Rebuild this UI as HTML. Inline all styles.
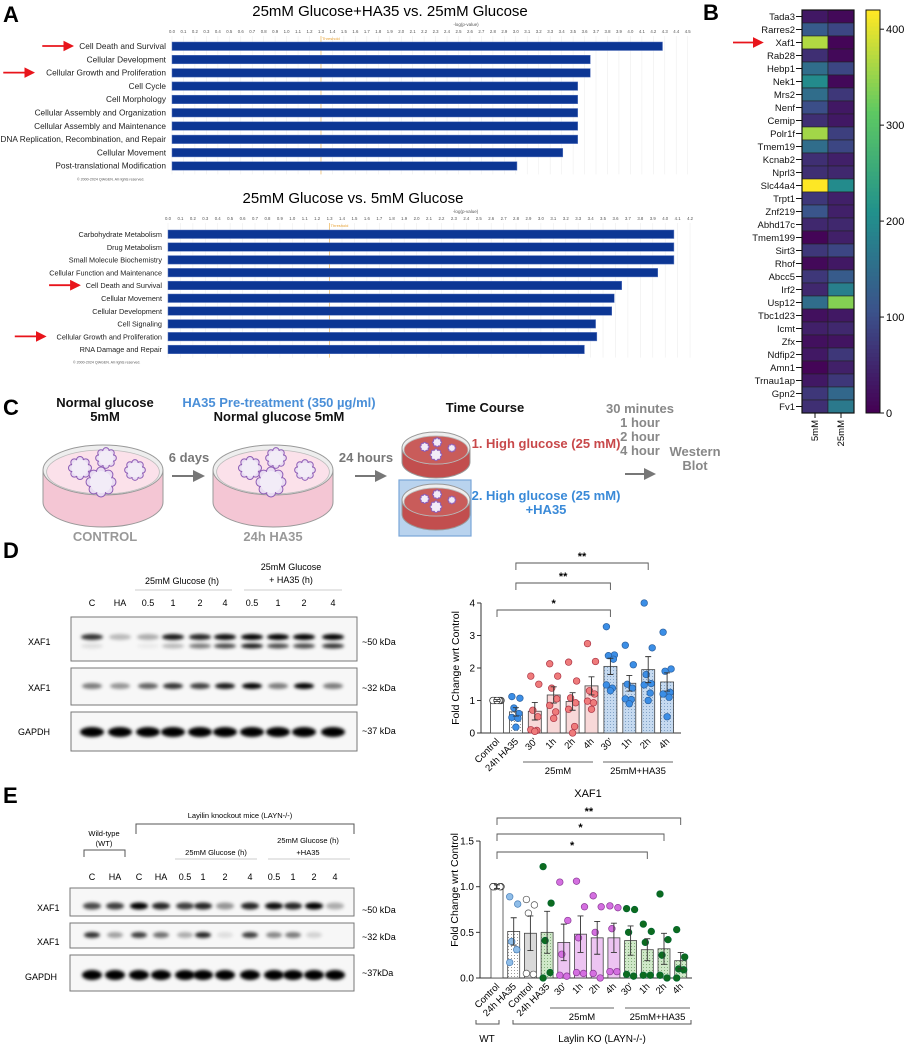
<!DOCTYPE html>
<html><head><meta charset="utf-8">
<style>
html,body{margin:0;padding:0;background:#fff;}
svg{display:block;font-family:"Liberation Sans",Arial,sans-serif;}
.nar{font-family:"Liberation Sans Narrow","Liberation Sans",sans-serif;font-weight:bold;}
</style></head>
<body>
<svg id="fig" width="907" height="1050" viewBox="0 0 907 1050" xmlns="http://www.w3.org/2000/svg">
<defs>
<pattern id="dotW" width="3" height="3" patternUnits="userSpaceOnUse"><rect width="3" height="3" fill="#fff"/><circle cx="1.5" cy="1.5" r="0.5" fill="#777"/></pattern>
<pattern id="dotB" width="3" height="3" patternUnits="userSpaceOnUse"><rect width="3" height="3" fill="#c6daf0"/><circle cx="1.5" cy="1.5" r="0.5" fill="#6a8fb8"/></pattern>
<pattern id="dotG" width="3" height="3" patternUnits="userSpaceOnUse"><rect width="3" height="3" fill="#cfe8c8"/><circle cx="1.5" cy="1.5" r="0.5" fill="#6a9a60"/></pattern>
<filter id="blur" x="-50%" y="-100%" width="200%" height="300%"><feGaussianBlur stdDeviation="1.6"/></filter>
<marker id="arrR" markerWidth="6" markerHeight="6" refX="5" refY="3" orient="auto"><path d="M0,0 L6,3 L0,6 z" fill="#e8141b"/></marker>
<marker id="arrG" markerWidth="6" markerHeight="6" refX="5" refY="3" orient="auto"><path d="M0,0 L6,3 L0,6 z" fill="#777"/></marker>
</defs>
<g id="panelA"></g>
<g id="panelB"></g>
<g id="panelC"></g>
<g id="panelD"></g>
<g id="panelE"></g>
</svg>
<script>
// ---------- DATA ----------
const topCats=["Cell Death and Survival","Cellular Development","Cellular Growth and Proliferation","Cell Cycle","Cell Morphology","Cellular Assembly and Organization","Cellular Assembly and Maintenance","DNA Replication, Recombination, and Repair","Cellular Movement","Post-translational Modification"];
const topVals=[4.28,3.65,3.65,3.54,3.54,3.54,3.54,3.54,3.41,3.01];
const botCats=["Carbohydrate Metabolism","Drug Metabolism","Small Molecule Biochemistry","Cellular Function and Maintenance","Cell Death and Survival","Cellular Movement","Cellular Development","Cell Signaling","Cellular Growth and Proliferation","RNA Damage and Repair"];
const botVals=[4.07,4.07,4.07,3.94,3.65,3.59,3.57,3.44,3.45,3.35];
const genes=["Tada3","Rarres2","Xaf1","Rab28","Hebp1","Nek1","Mrs2","Nenf","Cemip","Polr1f","Tmem19","Kcnab2","Nprl3","Slc44a4","Trpt1","Znf219","Abhd17c","Tmem199","Sirt3","Rhof","Abcc5","Irf2","Usp12","Tbc1d23","Icmt","Zfx","Ndfip2","Amn1","Trnau1ap","Gpn2","Fv1"];
const heat5=[30,120,370,60,150,200,150,100,60,360,150,60,60,420,70,110,50,5,70,10,70,50,150,20,40,20,30,5,30,70,60];
const heat25=[10,90,5,10,90,10,70,30,30,80,90,40,50,200,40,40,50,40,90,30,120,180,340,30,50,25,70,40,70,140,170];
const heatTicks=[0,100,200,300,400];
const dCats=["Control","24h HA35","30'","1h","2h","4h","30'","1h","2h","4h"];
const dMeans=[1.0,0.65,0.67,1.17,0.97,1.45,2.05,1.53,1.95,1.57];
const dErr=[0.03,0.13,0.27,0.25,0.27,0.28,0.25,0.24,0.4,0.28];
const dPts=[[1,1,1,1,1,1,1],[1.12,1.07,0.77,0.6,0.48,0.45,0.18],[1.75,1.5,0.7,0.5,0.1,0.08,0.05],[2.13,1.75,1.38,1.05,0.85,0.65,0.45],[2.18,1.6,1.08,0.93,0.73,0.2,0],[2.75,2.2,1.3,1.2,0.98,0.93,0.73],[3.27,2.4,2.38,2.27,1.48,1.38,1.3],[2.7,2.1,1.5,1.38,1.05,1.03,0.9],[4.0,2.62,1.8,1.52,1.48,1.23,1.0],[3.1,1.97,1.9,1.25,1.2,1.1,0.5]];
const dTicks=[0,1,2,3,4];
const eCats=["Control","24h HA35","Control","24h HA35","30'","1h","2h","4h","30'","1h","2h","4h"];
const eMeans=[1.0,0.51,0.49,0.5,0.39,0.48,0.44,0.44,0.41,0.31,0.32,0.19];
const eErr=[0.02,0.15,0.19,0.23,0.2,0.2,0.18,0.16,0.16,0.12,0.17,0.09];
const ePts=[[1,1,1,1,1],[0.89,0.81,0.4,0.31,0.17],[0.86,0.8,0.71,0.04,0.05],[1.22,0.82,0.41,0.06,0.0],[1.05,0.63,0.26,0.02,0.03],[1.06,0.78,0.44,0.05,0.06],[0.9,0.78,0.5,0.0,0.05],[0.79,0.77,0.54,0.07,0.07],[0.76,0.75,0.5,0.02,0.04],[0.59,0.51,0.39,0.03,0.03],[0.92,0.42,0.25,0.0,0.03],[0.53,0.23,0.1,0.09,0.0]];
const eTicks=[0,0.5,1.0,1.5];
const dBand50=[0.8,0.25,0.3,0.9,0.85,0.95,1,1,1,1];
const dBand50b=[0.1,0,0.05,0.25,0.5,0.7,0.9,0.7,0.7,0.8];
const dBand32=[0.5,0.4,0.6,0.8,0.75,0.9,1,0.5,1,0.5];
const eBand50=[0.7,0.75,1,0.85,0.75,0.85,0.4,0.85,0.95,0.85,1,0.3];
const eBand32=[0.8,0.35,0.75,0.55,0.3,0.85,0.1,0.75,0.45,0.5,0.15,0];

// ---------- helpers ----------
const NS='http://www.w3.org/2000/svg';
function mk(tag,attrs,parent){const e=document.createElementNS(NS,tag);for(const k in attrs)e.setAttribute(k,attrs[k]);parent.appendChild(e);return e;}
function tx(p,x,y,s,attrs){const t=mk('text',Object.assign({x:x,y:y},attrs||{}),p);t.textContent=s;return t;}
const A=document.getElementById('panelA'),B=document.getElementById('panelB'),C=document.getElementById('panelC'),D=document.getElementById('panelD'),E=document.getElementById('panelE');

// ---------- Panel A ----------
let el;
el=tx(A,3,22,'A',{'font-size':22,'font-weight':'bold'});


function ipa(cats,vals,o){
  const g=mk('g',{},A);
  
  
  const xs=v=>o.x0+v*o.ppu;
  const t=tx(g,o.titleX,o.titleY,o.title,{'font-size':15,'text-anchor':'middle'});
  
  
  const bottom=o.row0+(cats.length-0.5)*o.step+2;
  for(let i=0;i<=o.max*10;i++){
    const v=i/10;
    const gl=mk('line',{x1:xs(v),x2:xs(v),y1:o.tickY+3,y2:bottom,stroke:'#eeeeee','stroke-width':0.6},g);
    
    
    const tl=tx(g,xs(v),o.tickY,v.toFixed(1),{'font-size':4.3,'text-anchor':'middle',fill:'#555'});
    
    
  }
  const at=tx(g,o.x0+o.ppu*o.max*0.57,o.tickY-7,'-log(p-value)',{'font-size':4.5,'text-anchor':'middle',fill:'#555'});
  
  
  const th=mk('line',{x1:xs(1.3),x2:xs(1.3),y1:o.tickY+3,y2:bottom,stroke:'#f0c070','stroke-width':0.8},g);
  
  
  const tt=tx(g,xs(1.3)+1,o.tickY+7,'Threshold',{'font-size':4,fill:'#e8a030'});
  
  
  cats.forEach((c,i)=>{
    const y=o.row0+i*o.step;
    const r=mk('rect',{x:xs(0),y:y-4,width:xs(vals[i])-xs(0),height:8.5,fill:'#0c3694',stroke:'#5b78c0','stroke-width':0.5},g);
    
    
    const l=tx(g,o.x0-6,y+3,c,{'font-size':o.fs,'text-anchor':'end',fill:'#222'});
    
    
  });
  const cp=tx(g,o.x0-95,bottom+6,'© 2000-2024 QIAGEN. All rights reserved.',{'font-size':3.6,fill:'#555'});
  
  
  o.arrows.forEach(i=>{
    const y=o.row0+i*o.step;
    const tw=cats[i].length*o.fs*0.47;
    const x2=o.x0-10-tw;
    const ar=mk('line',{x1:x2-30,x2:x2,y1:y,y2:y,stroke:'#e8141b','stroke-width':1.8,'marker-end':'url(#arrR)'},g);
    
    
  });
}
ipa(topCats,topVals,{name:'ipa-chart-ha35-vs-25mm',x0:172,ppu:114.6,max:4.5,row0:46,step:13.3,tickY:33,title:'25mM Glucose+HA35 vs. 25mM Glucose',titleX:390,titleY:16,fs:8.3,arrows:[0,2]});
ipa(botCats,botVals,{name:'ipa-chart-25mm-vs-5mm',x0:168,ppu:124.3,max:4.2,row0:234,step:12.8,tickY:220,title:'25mM Glucose vs. 5mM Glucose',titleX:353,titleY:203,fs:7.3,arrows:[4,8]});

// ---------- Panel B heatmap ----------
el=tx(B,703,20,'B',{'font-size':22,'font-weight':'bold'});


const hmMax=420,hmTop=10,hmRow=13,hmX=[802,828],hmW=26;
function viridis(t){const s=[[68,1,84],[59,82,139],[33,145,140],[94,201,98],[253,231,37]];t=Math.max(0,Math.min(1,t))*4;const i=Math.min(3,Math.floor(t)),f=t-i;const c=s[i].map((v,k)=>Math.round(v+(s[i+1][k]-v)*f));return 'rgb('+c.join(',')+')';}
const hy=i=>hmTop+i*hmRow;
[heat5,heat25].forEach((col,j)=>{
  col.forEach((v,i)=>{
    const r=mk('rect',{x:hmX[j],y:hy(i),width:hmW,height:hmRow,fill:viridis(v/hmMax),stroke:'#222','stroke-width':0.6},B);
    
    
  });
});
genes.forEach((gname,i)=>{
  const l=tx(B,795,hy(i)+10,gname,{'font-size':9.5,'text-anchor':'end',fill:'#111'});
  
  
  const tk=mk('line',{x1:796,x2:802,y1:hy(i)+6.5,y2:hy(i)+6.5,stroke:'#111','stroke-width':1},B);
  
  
});
el=mk('rect',{x:802,y:hmTop,width:52,height:genes.length*hmRow,fill:'none',stroke:'#111','stroke-width':1.2},B);


['5mM','25mM'].forEach((s,j)=>{
  const cx=hmX[j]+hmW/2;
  const tk=mk('line',{x1:cx,x2:cx,y1:413,y2:418,stroke:'#111'},B);
  
  
  const l=tx(B,cx+3,420,s,{'font-size':9.5,'text-anchor':'end',transform:'rotate(-90 '+(cx+3)+' 420)'});
  
  
});
el=mk('line',{x1:733,x2:762,y1:hy(2)+6.5,y2:hy(2)+6.5,stroke:'#e8141b','stroke-width':1.8,'marker-end':'url(#arrR)'},B);


const cbH=genes.length*hmRow;
for(let k=0;k<100;k++){
  const r=mk('rect',{x:866,y:hmTop+cbH-(k+1)*cbH/100,width:14,height:cbH/100+0.5,fill:viridis(k/99)},B);
  
  
}
el=mk('rect',{x:866,y:hmTop,width:14,height:cbH,fill:'none',stroke:'#111','stroke-width':1},B);


heatTicks.forEach(v=>{
  const y=hmTop+cbH-v/hmMax*cbH;
  const tk=mk('line',{x1:880,x2:884,y1:y,y2:y,stroke:'#111'},B);
  
  
  const l=tx(B,886,y+4,String(v),{'font-size':11});
  
  
});

// ---------- Panel C schematic ----------
el=tx(C,3,415,'C',{'font-size':22,'font-weight':'bold'});


function cell(p,cx,cy,r){
  const g=mk('g',{},p);
  
  
  for(let a=0;a<8;a++){const an=a*Math.PI/4;mk('circle',{cx:cx+Math.cos(an)*r*0.8,cy:cy+Math.sin(an)*r*0.8,r:r*0.35,fill:'#e9dcf2',stroke:'#8d5cb5','stroke-width':1},g);}
  mk('circle',{cx:cx,cy:cy,r:r*0.85,fill:'#f2ecf7',stroke:'none'},g);
}
function dish(cx,cyTop,rx,ry,depth,red,name,cells){
  const g=mk('g',{},C);
  
  
  const side=red?'#c24e4e':'#f4c6d4', top=red?'#c95c5a':'#fbe1ea';
  mk('ellipse',{cx:cx,cy:cyTop+depth,rx:rx,ry:ry,fill:side,stroke:'#999','stroke-width':1},g);
  mk('rect',{x:cx-rx,y:cyTop,width:2*rx,height:depth,fill:side,stroke:'none'},g);
  mk('line',{x1:cx-rx,x2:cx-rx,y1:cyTop,y2:cyTop+depth,stroke:'#999'},g);
  mk('line',{x1:cx+rx,x2:cx+rx,y1:cyTop,y2:cyTop+depth,stroke:'#999'},g);
  mk('ellipse',{cx:cx,cy:cyTop,rx:rx,ry:ry,fill:'#eeeeee',stroke:'#999','stroke-width':1},g);
  mk('ellipse',{cx:cx,cy:cyTop+2,rx:rx*0.94,ry:ry*0.88,fill:top,stroke:'#bbb','stroke-width':0.8},g);
  const s=rx/60;
  cells.forEach(c=>cell(g,cx+c[0]*s,cyTop+c[1]*s,c[2]*s));
}
const bigCells=[[-23,-2,10],[3,-12,9],[-2,12,13],[32,0,9]];
dish(103,470,60,25,32,false,'dish-control',bigCells);
dish(273,470,60,25,32,false,'dish-24h-ha35',bigCells);
el=mk('rect',{x:399,y:480,width:72,height:56,fill:'#b9d3ee',stroke:'#7aa6d8','stroke-width':1.2},C);


const smallCells=[[-20,-2,7],[2,-10,7],[0,12,9],[28,0,6]];
dish(436,448,34,16,14,true,'dish-high-glucose',smallCells);
dish(436,500,34,16,14,true,'dish-high-glucose-ha35',smallCells);
const ctext=[[105,407,'Normal glucose','#111'],[105,421,'5mM','#111'],[279,407,'HA35 Pre-treatment (350 µg/ml)','#4a8fd8'],[279,421,'Normal glucose 5mM','#111'],[485,412,'Time Course','#111'],[189,462,'6 days','#777'],[366,462,'24 hours','#777'],[546,448,'1. High glucose (25 mM)','#c8484a'],[546,500,'2. High glucose (25 mM)','#3a8ad8'],[546,514,'+HA35','#3a8ad8'],[640,413,'30 minutes','#888'],[640,427,'1 hour','#888'],[640,441,'2 hour','#888'],[640,455,'4 hour','#888'],[695,456,'Western','#888'],[695,470,'Blot','#888'],[105,541,'CONTROL','#999'],[273,541,'24h HA35','#999']];
ctext.forEach(c=>{
  const t=tx(C,c[0],c[1],c[2],{'font-size':13,'text-anchor':'middle',fill:c[3],class:'nar'});
  
  
});
[[172,203,476],[355,385,476],[625,654,474]].forEach(a=>{
  const l=mk('line',{x1:a[0],x2:a[1],y1:a[2],y2:a[2],stroke:'#777','stroke-width':2,'marker-end':'url(#arrG)'},C);
  
  
});

// ---------- Western blot helper ----------
function blotBox(p,x1,x2,y1,y2){
  const r=mk('rect',{x:x1,y:y1,width:x2-x1,height:y2-y1,fill:'#f7f7f7',stroke:'#777','stroke-width':1},p);
  
  
}
function band(p,x,y,w,h,int){
  if(int<=0.02)return;
  const b=mk('ellipse',{cx:x,cy:y,rx:w/2,ry:h/2,fill:'#000','fill-opacity':int,filter:'url(#blur)'},p);
  
  
}
function label(p,x,y,s,fs,anchor,name){
  const t=tx(p,x,y,s,{'font-size':fs,'text-anchor':anchor||'start'});
  
  
  return t;
}

// ---------- Panel D ----------
label(D,3,558,'D',22,'start','panel-d-label').setAttribute('font-weight','bold');
const dLaneX=[92,120,148,173,200,225,252,278,304,333];
const dLaneLbl=['C','HA','0.5','1','2','4','0.5','1','2','4'];
blotBox(D,71,357,617,661);blotBox(D,71,357,668,705);blotBox(D,71,357,712,751);
dLaneX.forEach((x,i)=>{
  label(D,x,606,dLaneLbl[i],9,'middle','lane-label');
  band(D,x,637,22,6,dBand50[i]);
  band(D,x,646,22,5,dBand50b[i]);
  band(D,x,686,20,6,dBand32[i]);
  band(D,x,732,24,10,1);
});
label(D,182,584,'25mM Glucose (h)',9,'middle','group-header');
label(D,291,570,'25mM Glucose',9,'middle','group-header');
label(D,291,583,'+ HA35 (h)',9,'middle','group-header');
[[135,232],[244,342]].forEach(s=>{const l=mk('line',{x1:s[0],x2:s[1],y1:590,y2:590,stroke:'#ccc'},D);});
label(D,28,645,'XAF1',9,'start','protein-label');
label(D,28,691,'XAF1',9,'start','protein-label');
label(D,18,735,'GAPDH',9,'start','protein-label');
label(D,362,645,'~50 kDa',9,'start','kda-label');
label(D,362,691,'~32 kDa',9,'start','kda-label');
label(D,362,734,'~37 kDa',9,'start','kda-label');

// ---------- bar chart helper ----------
function barChart(p,cfg){
  const {cats,means,errs,pts,ticks,yS,xS,x0,x1,y0,fills,ptFill,ptStroke,bw,tickFmt}=cfg;
  const ax=mk('line',{x1:x0,x2:x0,y1:y0,y2:yS(ticks[ticks.length-1]),stroke:'#333','stroke-width':1},p);
  
  
  const bx=mk('line',{x1:x0,x2:x1,y1:y0,y2:y0,stroke:'#333','stroke-width':1},p);
  
  
  ticks.forEach(v=>{
    const t=mk('line',{x1:x0-4,x2:x0,y1:yS(v),y2:yS(v),stroke:'#333'},p);
    
    
    const l=tx(p,x0-6,yS(v)+3.5,tickFmt(v),{'font-size':10,'text-anchor':'end'});
    
    
  });
  const jit=[-4,4,-2,3,-4,2,0];
  cats.forEach((c,i)=>{
    const x=xS(i);
    const r=mk('rect',{x:x-bw/2,y:yS(means[i]),width:bw,height:y0-yS(means[i]),fill:fills[i],stroke:'#444','stroke-width':0.8},p);
    
    
    pts[i].forEach((v,k)=>{
      const d=mk('circle',{cx:x+jit[k%jit.length],cy:yS(v),r:3.3,fill:ptFill[i],stroke:ptStroke[i],'stroke-width':0.7},p);
      
      
    });
    const e=mk('path',{d:`M${x},${yS(means[i]-errs[i])}V${yS(means[i]+errs[i])}M${x-3},${yS(means[i]+errs[i])}H${x+3}M${x-3},${yS(means[i]-errs[i])}H${x+3}`,stroke:'#333','stroke-width':0.9,fill:'none'},p);
    
    
    const l=tx(p,x+3,y0+9,c,{'font-size':9.5,'text-anchor':'end',transform:`rotate(-45 ${x+3} ${y0+9})`});
    
    
  });
}
function bracket(p,xa,xb,y,s){
  const b=mk('path',{d:`M${xa},${y+7}V${y}H${xb}V${y+7}`,stroke:'#555','stroke-width':0.9,fill:'none'},p);
  
  
  const t=tx(p,(xa+xb)/2,y-3,s,{'font-size':11,'text-anchor':'middle','font-weight':'bold'});
  
  
}
function groupLine(p,xa,xb,y,s,name){
  const l=mk('line',{x1:xa,x2:xb,y1:y,y2:y,stroke:'#666'},p);
  
  
  const t=tx(p,(xa+xb)/2,y+12,s,{'font-size':9.5,'text-anchor':'middle'});
  
  
}

// D chart
const yD=v=>733-v*32.5, xD=i=>497+i*18.9;
const gD=mk('g',{},D);


barChart(gD,{cats:dCats,means:dMeans,errs:dErr,pts:dPts,ticks:dTicks,yS:yD,xS:xD,x0:481,x1:681,y0:733,bw:13,tickFmt:v=>String(v),
  fills:['#fff','url(#dotW)','#f8d8d8','#f8d8d8','#f8d8d8','#f8d8d8','url(#dotB)','url(#dotB)','url(#dotB)','url(#dotB)'],
  ptFill:['#fff','#3b8ee6','#ef7b7b','#ef7b7b','#ef7b7b','#ef7b7b','#3b8ee6','#3b8ee6','#3b8ee6','#3b8ee6'],
  ptStroke:['#333','#2a5f9e','#a34','#a34','#a34','#a34','#2a5f9e','#2a5f9e','#2a5f9e','#2a5f9e']});
bracket(gD,xD(0),xD(6),610,'*');
bracket(gD,xD(1),xD(6),583,'**');
bracket(gD,xD(1),xD(8),563,'**');
groupLine(gD,523,593,762,'25mM','group-25mm');
groupLine(gD,603,673,762,'25mM+HA35','group-25mm-ha35');
el=tx(gD,459,668,'Fold Change wrt Control',{'font-size':10.5,'text-anchor':'middle',transform:'rotate(-90 459 668)'});



// ---------- Panel E ----------
label(E,3,803,'E',22,'start','panel-e-label').setAttribute('font-weight','bold');
const eLaneX=[92,115,139,161,185,203,225,250,274,293,314,335];
const eLaneLbl=['C','HA','C','HA','0.5','1','2','4','0.5','1','2','4'];
blotBox(E,70,354,888,916);blotBox(E,70,354,923,948);blotBox(E,70,354,955,991);
eLaneX.forEach((x,i)=>{
  label(E,x,880,eLaneLbl[i],9,'middle','lane-label');
  band(E,x,906,18,7,eBand50[i]);
  band(E,x,935,16,6,eBand32[i]);
  band(E,x,975,20,10,1);
});
label(E,104,836,'Wild-type',7.5,'middle','group-header');
label(E,104,846,'(WT)',7.5,'middle','group-header');
el=mk('path',{d:'M84,857V850H125V857',stroke:'#555',fill:'none'},E);


label(E,240,818,'Layilin knockout mice (LAYN-/-)',7.5,'middle','group-header');
el=mk('path',{d:'M136,834V824H354V834',stroke:'#555',fill:'none'},E);


label(E,216,855,'25mM Glucose (h)',7.5,'middle','group-header');
label(E,308,843,'25mM Glucose (h)',7.5,'middle','group-header');
label(E,308,855,'+HA35',7.5,'middle','group-header');
[[175,257],[268,350]].forEach(s=>{const l=mk('line',{x1:s[0],x2:s[1],y1:859,y2:859,stroke:'#ccc'},E);});
label(E,37,911,'XAF1',9,'start','protein-label');
label(E,37,945,'XAF1',9,'start','protein-label');
label(E,25,980,'GAPDH',9,'start','protein-label');
label(E,362,913,'~50 kDa',9,'start','kda-label');
label(E,362,940,'~32 kDa',9,'start','kda-label');
label(E,362,976,'~37kDa',9,'start','kda-label');

const yE=v=>978-v*91.3, xE=i=>497+i*16.7;
const gE=mk('g',{},E);


const vio='#d46fe0',grn='#0d6b1e';
barChart(gE,{cats:eCats,means:eMeans,errs:eErr,pts:ePts,ticks:eTicks,yS:yE,xS:xE,x0:480,x1:692,y0:978,bw:12,tickFmt:v=>v.toFixed(1),
  fills:['#fff','url(#dotW)','#d9d9d9','url(#dotG)','#edc4f2','#edc4f2','#edc4f2','#edc4f2','url(#dotG)','url(#dotG)','url(#dotG)','url(#dotG)'],
  ptFill:['#fff','#8fbde8','#fff',grn,vio,vio,vio,vio,grn,grn,grn,grn],
  ptStroke:['#333','#4a7fb8','#555','#063','#8a3a96','#8a3a96','#8a3a96','#8a3a96','#063','#063','#063','#063']});
bracket(gE,xE(0),xE(11),818,'**');
bracket(gE,xE(0),xE(10),834,'*');
bracket(gE,xE(0),xE(9),852,'*');
el=tx(gE,588,797,'XAF1',{'font-size':11,'text-anchor':'middle'});


groupLine(gE,550,614,1008,'25mM','group-25mm');
groupLine(gE,625,690,1008,'25mM+HA35','group-25mm-ha35');
el=mk('path',{d:'M476,1020V1024H499V1020',stroke:'#555',fill:'none'},gE);


el=tx(gE,487,1042,'WT',{'font-size':10,'text-anchor':'middle'});


el=mk('path',{d:'M513,1020V1024H691V1020',stroke:'#555',fill:'none'},gE);


el=tx(gE,602,1042,'Laylin KO (LAYN-/-)',{'font-size':10,'text-anchor':'middle'});


el=tx(gE,458,890,'Fold Change wrt Control',{'font-size':10.5,'text-anchor':'middle',transform:'rotate(-90 458 890)'});


</script>
</body></html>
